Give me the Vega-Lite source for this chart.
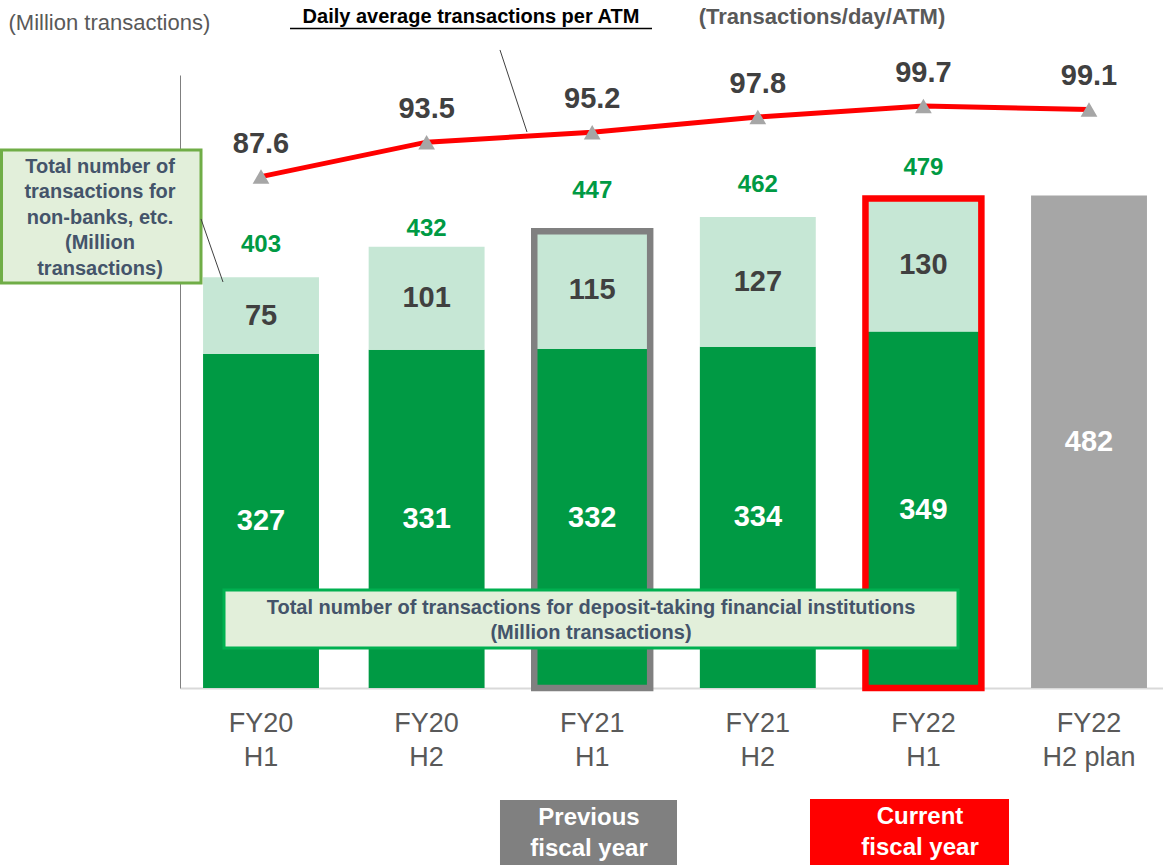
{
  "$schema": "https://vega.github.io/schema/vega-lite/v6.json",
  "width": 983,
  "height": 613,
  "autosize": "none",
  "padding": {"left": 180, "top": 75, "right": 0, "bottom": 177},
  "background": "white",
  "config": {"view": {"stroke": null}, "font": "Liberation Sans", "text": {"lineBreak": "\n"}},
  "datasets": {
    "bars": [
      {"period": "FY20|H1", "segment": "Deposit-taking financial institutions", "value": 327},
      {"period": "FY20|H1", "segment": "Non-banks, etc.", "value": 75},
      {"period": "FY20|H2", "segment": "Deposit-taking financial institutions", "value": 331},
      {"period": "FY20|H2", "segment": "Non-banks, etc.", "value": 101},
      {"period": "FY21|H1", "segment": "Deposit-taking financial institutions", "value": 332},
      {"period": "FY21|H1", "segment": "Non-banks, etc.", "value": 115},
      {"period": "FY21|H2", "segment": "Deposit-taking financial institutions", "value": 334},
      {"period": "FY21|H2", "segment": "Non-banks, etc.", "value": 127},
      {"period": "FY22|H1", "segment": "Deposit-taking financial institutions", "value": 349},
      {"period": "FY22|H1", "segment": "Non-banks, etc.", "value": 130},
      {"period": "FY22|H2 plan", "segment": "Plan", "value": 482}
    ],
    "totals": [
      {"period": "FY20|H1", "total": 403, "highlight": null},
      {"period": "FY20|H2", "total": 432, "highlight": null},
      {"period": "FY21|H1", "total": 447, "highlight": "Previous fiscal year"},
      {"period": "FY21|H2", "total": 462, "highlight": null},
      {"period": "FY22|H1", "total": 479, "highlight": "Current fiscal year"}
    ],
    "atm": [
      {"period": "FY20|H1", "perATM": 87.6},
      {"period": "FY20|H2", "perATM": 93.5},
      {"period": "FY21|H1", "perATM": 95.2},
      {"period": "FY21|H2", "perATM": 97.8},
      {"period": "FY22|H1", "perATM": 99.7},
      {"period": "FY22|H2 plan", "perATM": 99.1}
    ],
    "notes": [
      {"id": "nonbank_box", "x": -1.567, "x2": -0.3623, "y": 526.6, "y2": 396.4},
      {"id": "deposit_box", "x": -0.2234, "x2": 4.209, "y": 95.9, "y2": 39.2},
      {"id": "prev_box", "x": 1.4432, "x2": 2.5121, "y": -109.6, "y2": -175},
      {"id": "curr_box", "x": 3.3152, "x2": 4.5169, "y": -108.6, "y2": -175},
      {"id": "nonbank_leader", "x": -0.3623, "x2": -0.2295, "y": 459.1, "y2": 397.4},
      {"id": "atm_leader", "x": 1.4432, "x2": 1.6063, "y": 624.5, "y2": 544.2},
      {"id": "underline", "x": 0.1751, "x2": 2.3611, "y": 645.5, "y2": 645.5},
      {"id": "nonbank_text", "x": -0.9722, "y": 510.0, "text": "Total number of\ntransactions for\nnon-banks, etc.\n(Million\ntransactions)"},
      {"id": "deposit_text", "x": 1.9928, "y": 78.3, "text": "Total number of transactions for deposit-taking financial institutions\n(Million transactions)"},
      {"id": "prev_text", "x": 1.9807, "y": -127.2, "text": "Previous\nfiscal year"},
      {"id": "curr_text", "x": 3.9795, "y": -126.3, "text": "Current\nfiscal year"},
      {"id": "title_text", "x": 1.2681, "y": 656.8, "text": "Daily average transactions per ATM"},
      {"id": "unit_text", "x": 3.3877, "y": 656.8, "text": "(Transactions/day/ATM)"}
    ]
  },
  "resolve": {"scale": {"x": "independent", "y": "independent"}},
  "layer": [
    {
      "resolve": {"scale": {"y": "independent"}},
      "layer": [
        {
          "resolve": {"scale": {"color": "independent"}},
          "layer": [
            {
              "data": {"name": "bars"},
              "mark": {"type": "bar"},
              "encoding": {
                "x": {
                  "field": "period", "type": "nominal", "sort": null,
                  "scale": {"paddingInner": 0.3, "paddingOuter": 0.118, "align": 0.59},
                  "axis": {
                    "title": null, "labelExpr": "split(datum.label, '|')", "labelAngle": 0,
                    "labelFontSize": 27, "labelColor": "#595959", "labelLineHeight": 34,
                    "labelPadding": 22, "labelBaseline": "top", "ticks": false,
                    "domainColor": "#d9d9d9", "domainWidth": 2
                  }
                },
                "y": {
                  "field": "value", "type": "quantitative", "stack": "zero",
                  "scale": {"domain": [0, 600]},
                  "axis": {
                    "title": "(Million transactions)", "labels": false, "ticks": false, "grid": false,
                    "domainColor": "#7f7f7f", "domainWidth": 1,
                    "titleAngle": 0, "titleAlign": "left", "titleBaseline": "middle",
                    "titleX": -172, "titleY": -53, "titleFont": "Liberation Sans",
                    "titleFontSize": 22, "titleFontWeight": "normal", "titleColor": "#595959"
                  }
                },
                "order": {"field": "segment", "sort": "ascending"},
                "color": {
                  "field": "segment", "type": "nominal",
                  "scale": {"domain": ["Deposit-taking financial institutions", "Non-banks, etc.", "Plan"], "range": ["#009a44", "#c6e7d5", "#a6a6a6"]},
                  "legend": null
                }
              }
            },
            {
              "data": {"name": "totals"},
              "transform": [{"filter": "isValid(datum.highlight)"}],
              "mark": {"type": "bar", "fillOpacity": 0, "strokeWidth": 6.5},
              "encoding": {
                "x": {"field": "period", "type": "nominal", "sort": null},
                "y": {"field": "total", "type": "quantitative", "scale": {"domain": [0, 600]}},
                "stroke": {
                  "field": "highlight", "type": "nominal",
                  "scale": {"domain": ["Previous fiscal year", "Current fiscal year"], "range": ["#808080", "#ff0000"]},
                  "legend": null
                }
              }
            },
            {
              "data": {"name": "bars"},
              "mark": {"type": "text", "fontSize": 29, "fontWeight": "bold", "baseline": "middle"},
              "encoding": {
                "x": {"field": "period", "type": "nominal", "sort": null},
                "y": {"field": "value", "type": "quantitative", "stack": "zero", "bandPosition": 0.5, "scale": {"domain": [0, 600]}},
                "order": {"field": "segment", "sort": "ascending"},
                "text": {"field": "value", "type": "quantitative"},
                "color": {
                  "field": "segment", "type": "nominal",
                  "scale": {"domain": ["Deposit-taking financial institutions", "Non-banks, etc.", "Plan"], "range": ["#ffffff", "#404040", "#ffffff"]},
                  "legend": null
                }
              }
            },
            {
              "data": {"name": "totals"},
              "transform": [{"filter": "datum.period != 'FY20|H2' && datum.period != 'FY21|H1'"}],
              "mark": {"type": "text", "fontSize": 24, "fontWeight": "bold", "color": "#009a44", "baseline": "middle", "dy": -31},
              "encoding": {
                "x": {"field": "period", "type": "nominal", "sort": null},
                "y": {"field": "total", "type": "quantitative", "scale": {"domain": [0, 600]}},
                "text": {"field": "total", "type": "quantitative"}
              }
            },
            {
              "data": {"name": "totals"},
              "transform": [{"filter": "datum.period == 'FY20|H2'"}],
              "mark": {"type": "text", "fontSize": 24, "fontWeight": "bold", "color": "#009a44", "baseline": "middle", "dy": -18},
              "encoding": {
                "x": {"field": "period", "type": "nominal", "sort": null},
                "y": {"field": "total", "type": "quantitative", "scale": {"domain": [0, 600]}},
                "text": {"field": "total", "type": "quantitative"}
              }
            },
            {
              "data": {"name": "totals"},
              "transform": [{"filter": "datum.period == 'FY21|H1'"}],
              "mark": {"type": "text", "fontSize": 24, "fontWeight": "bold", "color": "#009a44", "baseline": "middle", "dy": -40},
              "encoding": {
                "x": {"field": "period", "type": "nominal", "sort": null},
                "y": {"field": "total", "type": "quantitative", "scale": {"domain": [0, 600]}},
                "text": {"field": "total", "type": "quantitative"}
              }
            }
          ]
        },
        {
          "data": {"name": "atm"},
          "encoding": {
            "x": {"field": "period", "type": "nominal", "sort": null},
            "y": {"field": "perATM", "type": "quantitative", "scale": {"domain": [0, 105]}, "axis": null}
          },
          "layer": [
            {"mark": {"type": "line", "color": "#ff0000", "strokeWidth": 5}},
            {"mark": {"type": "point", "shape": "triangle-up", "filled": true, "color": "#a6a6a6", "opacity": 1, "size": 280}},
            {
              "mark": {"type": "text", "fontSize": 29, "fontWeight": "bold", "color": "#404040", "baseline": "middle", "dy": -33},
              "encoding": {"text": {"field": "perATM", "type": "quantitative", "format": ".1f"}}
            }
          ]
        }
      ]
    },
    {
      "data": {"name": "notes"},
      "encoding": {
        "x": {"field": "x", "type": "quantitative", "scale": {"domain": [-0.48913, 5.44686], "zero": false, "nice": false}, "axis": null},
        "y": {"field": "y", "type": "quantitative", "scale": {"domain": [0, 600], "zero": false, "nice": false}, "axis": null}
      },
      "layer": [
        {
          "transform": [{"filter": "datum.id == 'nonbank_box'"}],
          "mark": {"type": "rect", "fill": "#e2efda", "stroke": "#70ad47", "strokeWidth": 3},
          "encoding": {"x2": {"field": "x2"}, "y2": {"field": "y2"}}
        },
        {
          "transform": [{"filter": "datum.id == 'deposit_box'"}],
          "mark": {"type": "rect", "fill": "#e2efda", "stroke": "#00b050", "strokeWidth": 3},
          "encoding": {"x2": {"field": "x2"}, "y2": {"field": "y2"}}
        },
        {
          "transform": [{"filter": "datum.id == 'prev_box'"}],
          "mark": {"type": "rect", "fill": "#808080"},
          "encoding": {"x2": {"field": "x2"}, "y2": {"field": "y2"}}
        },
        {
          "transform": [{"filter": "datum.id == 'curr_box'"}],
          "mark": {"type": "rect", "fill": "#ff0000"},
          "encoding": {"x2": {"field": "x2"}, "y2": {"field": "y2"}}
        },
        {
          "transform": [{"filter": "datum.id == 'nonbank_leader' || datum.id == 'atm_leader'"}],
          "mark": {"type": "rule", "color": "#404040", "strokeWidth": 1},
          "encoding": {"x2": {"field": "x2"}, "y2": {"field": "y2"}}
        },
        {
          "transform": [{"filter": "datum.id == 'underline'"}],
          "mark": {"type": "rule", "color": "#000000", "strokeWidth": 1.5},
          "encoding": {"x2": {"field": "x2"}, "y2": {"field": "y2"}}
        },
        {
          "transform": [{"filter": "datum.id == 'nonbank_text'"}],
          "mark": {"type": "text", "fontSize": 20, "fontWeight": "bold", "color": "#44546a", "lineHeight": 25.5, "baseline": "middle", "align": "center"},
          "encoding": {"text": {"field": "text"}}
        },
        {
          "transform": [{"filter": "datum.id == 'deposit_text'"}],
          "mark": {"type": "text", "fontSize": 20, "fontWeight": "bold", "color": "#44546a", "lineHeight": 25, "baseline": "middle", "align": "center"},
          "encoding": {"text": {"field": "text"}}
        },
        {
          "transform": [{"filter": "datum.id == 'prev_text' || datum.id == 'curr_text'"}],
          "mark": {"type": "text", "fontSize": 24, "fontWeight": "bold", "color": "#ffffff", "lineHeight": 31, "baseline": "middle", "align": "center"},
          "encoding": {"text": {"field": "text"}}
        },
        {
          "transform": [{"filter": "datum.id == 'title_text'"}],
          "mark": {"type": "text", "fontSize": 20, "fontWeight": "bold", "color": "#000000", "baseline": "middle", "align": "center"},
          "encoding": {"text": {"field": "text"}}
        },
        {
          "transform": [{"filter": "datum.id == 'unit_text'"}],
          "mark": {"type": "text", "fontSize": 22, "fontWeight": "bold", "color": "#595959", "baseline": "middle", "align": "center"},
          "encoding": {"text": {"field": "text"}}
        }
      ]
    }
  ]
}
